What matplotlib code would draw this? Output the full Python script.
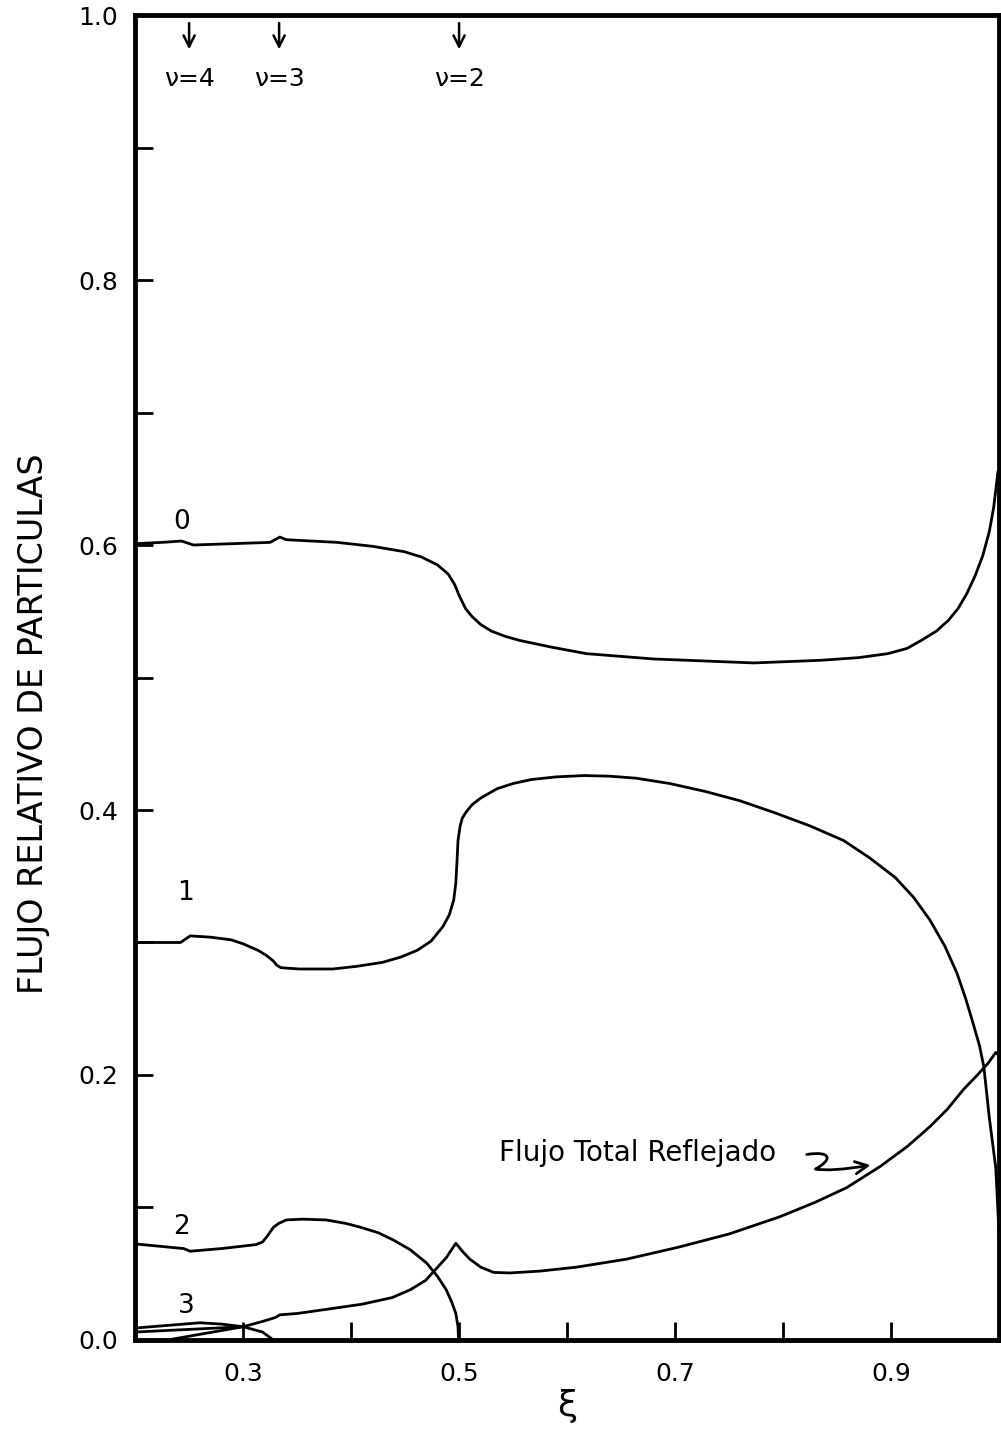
import matplotlib.pyplot as plt
from matplotlib.path import Path
from matplotlib.patches import FancyArrowPatch

plt.rcParams['font.family'] = 'DejaVu Sans'

# Relative particle flux for each reflection order vs xi
x_0 = [0.200, 0.225, 0.243, 0.254, 0.290, 0.325, 0.334, 0.340, 0.387, 0.420, 0.449, 0.465,
       0.480, 0.490, 0.496, 0.500, 0.506, 0.512, 0.520, 0.530, 0.543, 0.556, 0.585, 0.618,
       0.680, 0.773, 0.835, 0.870, 0.897, 0.915, 0.928, 0.942, 0.953, 0.962, 0.970, 0.978,
       0.985, 0.991, 0.995, 0.999]
y_0 = [0.601, 0.602, 0.603, 0.600, 0.601, 0.602, 0.606, 0.604, 0.602, 0.599, 0.595, 0.591,
       0.585, 0.578, 0.570, 0.562, 0.552, 0.546, 0.540, 0.535, 0.531, 0.528, 0.523, 0.518,
       0.514, 0.511, 0.513, 0.515, 0.518, 0.522, 0.528, 0.535, 0.543, 0.552, 0.563, 0.577,
       0.592, 0.610, 0.628, 0.655]

x_1 = [0.200, 0.242, 0.251, 0.270, 0.289, 0.300, 0.314, 0.322, 0.328, 0.331, 0.335, 0.352,
       0.383, 0.405, 0.429, 0.446, 0.461, 0.474, 0.485, 0.491, 0.495, 0.497, 0.498, 0.499,
       0.501, 0.503, 0.507, 0.512, 0.520, 0.535, 0.550, 0.567, 0.590, 0.616, 0.640, 0.664,
       0.695, 0.728, 0.760, 0.792, 0.825, 0.856, 0.880, 0.904, 0.921, 0.936, 0.950, 0.961,
       0.969, 0.976, 0.982, 0.986, 0.991, 0.997, 1.000]
y_1 = [0.300, 0.300, 0.305, 0.304, 0.302, 0.299, 0.294, 0.290, 0.286, 0.283, 0.281, 0.280,
       0.280, 0.282, 0.285, 0.289, 0.294, 0.301, 0.312, 0.321, 0.332, 0.345, 0.360, 0.377,
       0.388, 0.394, 0.399, 0.404, 0.409, 0.416, 0.420, 0.423, 0.425, 0.426, 0.4255, 0.424,
       0.420, 0.414, 0.407, 0.398, 0.388, 0.377, 0.364, 0.349, 0.334, 0.317, 0.297, 0.277,
       0.258, 0.239, 0.222, 0.206, 0.168, 0.130, 0.081]

x_2 = [0.200, 0.245, 0.251, 0.280, 0.312, 0.318, 0.322, 0.328, 0.333, 0.340, 0.355, 0.377,
       0.395, 0.409, 0.425, 0.439, 0.455, 0.470, 0.480, 0.488, 0.493, 0.497, 0.499, 0.4995]
y_2 = [0.0725, 0.069, 0.067, 0.069, 0.072, 0.074, 0.078, 0.085, 0.088, 0.0906, 0.0912,
       0.0906, 0.088, 0.085, 0.081, 0.0755, 0.068, 0.058, 0.048, 0.038, 0.029, 0.020, 0.010,
       0.000]

x_3 = [0.200, 0.230, 0.260, 0.280, 0.300, 0.318, 0.328]
y_3 = [0.009, 0.011, 0.013, 0.012, 0.010, 0.006, 0.000]

x_low = [0.200, 0.250, 0.300]
y_low = [0.006, 0.008, 0.010]

# total reflected flux
x_tot = [0.230, 0.265, 0.300, 0.318, 0.330, 0.334, 0.350, 0.376, 0.410, 0.438, 0.455, 0.469,
         0.478, 0.488, 0.497, 0.503, 0.510, 0.520, 0.532, 0.547, 0.575, 0.609, 0.655, 0.703,
         0.750, 0.797, 0.830, 0.859, 0.890, 0.915, 0.936, 0.952, 0.967, 0.980, 0.990, 0.997,
         1.000]
y_tot = [0.000, 0.005, 0.010, 0.014, 0.017, 0.019, 0.020, 0.023, 0.027, 0.032, 0.038, 0.045,
         0.053, 0.062, 0.073, 0.067, 0.061, 0.055, 0.051, 0.0506, 0.052, 0.055, 0.061, 0.070,
         0.080, 0.093, 0.104, 0.115, 0.131, 0.146, 0.161, 0.174, 0.189, 0.200, 0.209, 0.217,
         0.215]

nu_vals = [4, 3, 2]
nu_xi = [0.25, 1 / 3, 0.5]

fig = plt.figure(figsize=(10.01, 14.31), dpi=100)
ax = fig.add_axes([0.135, 0.0636, 0.863, 0.9259])

for xs, ys in [(x_0, y_0), (x_1, y_1), (x_2, y_2), (x_3, y_3), (x_low, y_low), (x_tot, y_tot)]:
    ax.plot(xs, ys, color='black', lw=2.0, solid_joinstyle='round')

ax.set_xlim(0.2, 1.0)
ax.set_ylim(0.0, 1.0)

ax.set_xticks([0.3, 0.4, 0.5, 0.6, 0.7, 0.8, 0.9])
ax.set_xticklabels(['0.3', '', '0.5', '', '0.7', '', '0.9'])
ax.set_yticks([i / 10 for i in range(11)])
ax.set_yticklabels(['0.0', '', '0.2', '', '0.4', '', '0.6', '', '0.8', '', '1.0'])
ax.tick_params(direction='in', length=13, width=2, labelsize=18)
ax.tick_params(axis='x', pad=16)
ax.tick_params(axis='y', pad=12)
for s in ax.spines.values():
    s.set_linewidth(3.5)

ax.set_xlabel('ξ', fontsize=26, labelpad=2)
ax.set_ylabel('FLUJO RELATIVO DE PARTICULAS', fontsize=24)
ax.yaxis.set_label_coords(-0.098, 0.465)

# curve labels
for txt, lx, ly in [('0', 0.243, 0.617), ('1', 0.247, 0.337), ('2', 0.243, 0.085), ('3', 0.247, 0.026)]:
    ax.text(lx, ly, txt, fontsize=19, ha='center', va='center')

# resonance positions along the top
for nu, xi in zip(nu_vals, nu_xi):
    ax.annotate('', xy=(xi, 0.972), xytext=(xi, 0.996),
                arrowprops=dict(arrowstyle='->', lw=1.8, color='black', mutation_scale=20))
    ax.text(xi, 0.952, f'ν={nu}', fontsize=18, ha='center', va='center')

ax.text(0.537, 0.1415, 'Flujo Total Reflejado', fontsize=20, ha='left', va='center')
squiggle = Path([(0.822, 0.140), (0.845, 0.143), (0.846, 0.136), (0.830, 0.129),
                 (0.845, 0.127), (0.881, 0.132)],
                [Path.MOVETO, Path.CURVE4, Path.CURVE4, Path.CURVE4, Path.CURVE3, Path.CURVE3])
ax.add_patch(FancyArrowPatch(path=squiggle, arrowstyle='->', mutation_scale=22,
                             lw=2.0, color='black'))

fig.savefig('out.png', dpi=100)
